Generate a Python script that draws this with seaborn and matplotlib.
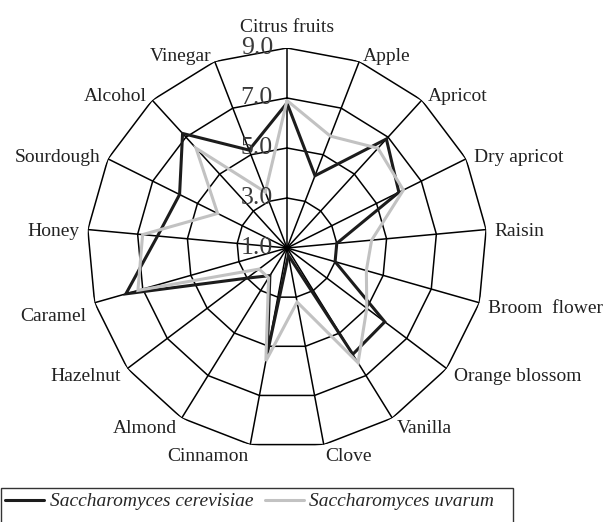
import numpy as np
import pandas as pd
import matplotlib
matplotlib.use("Agg")
import matplotlib.pyplot as plt
import matplotlib.transforms as mtransforms
from matplotlib.lines import Line2D
from matplotlib.patches import Rectangle
import seaborn as sns

categories = ["Citrus fruits", "Apple", "Apricot", "Dry apricot", "Raisin",
              "Broom  flower", "Orange blossom", "Vanilla", "Clove", "Cinnamon",
              "Almond", "Hazelnut", "Caramel", "Honey", "Sourdough", "Alcohol",
              "Vinegar"]
cerevisiae = [6.8, 4.1, 6.9, 6.0, 3.0, 3.0, 5.9, 6.0, 1.3, 5.3, 2.3, 3.0,
              7.7, 6.2, 5.8, 7.2, 5.2]
uvarum = [6.9, 5.8, 6.4, 6.2, 4.4, 4.3, 5.0, 6.4, 3.2, 5.6, 2.4, 2.4,
          7.2, 6.8, 4.1, 6.4, 3.4]
series_names = ["Saccharomyces cerevisiae", "Saccharomyces uvarum"]
ring_levels = [3, 5, 7, 9]
tick_levels = [1, 3, 5, 7, 9]
r_min, r_max = 1, 9

sns.set_theme(style="white")
plt.rcParams["font.family"] = ["Liberation Serif", "DejaVu Serif"]

W, H = 604, 522
fig = plt.figure(figsize=(W / 100, H / 100), dpi=100)
cx, cy, R = 287, 248, 200
ax = fig.add_axes([(cx - R) / W, (H - cy - R) / H, 2 * R / W, 2 * R / H],
                  projection="polar")
ax.set_theta_zero_location("N")
ax.set_theta_direction(-1)
ax.set_ylim(r_min, r_max)
ax.grid(False)
ax.spines["polar"].set_visible(False)
ax.set_xticks([])
ax.set_yticks([])
ax.set_facecolor("none")

n = len(categories)
theta = np.linspace(0, 2 * np.pi, n, endpoint=False)
theta_closed = np.append(theta, theta[0] + 2 * np.pi)

# polygon grid
for lv in ring_levels:
    ax.plot(theta_closed, [lv] * (n + 1), color="black", lw=1.1, zorder=1,
            solid_joinstyle="miter")
for th in theta:
    ax.plot([th, th], [r_min, r_max], color="black", lw=1.1, zorder=1)

# data
rows = []
for name, vals in zip(series_names, [cerevisiae, uvarum]):
    v = list(vals) + [vals[0]]
    for t, val in zip(theta_closed, v):
        rows.append({"theta": t, "value": val, "series": name})
df = pd.DataFrame(rows)
palette = {series_names[0]: "#1c1c1c", series_names[1]: "#c2c2c2"}
sns.lineplot(data=df, x="theta", y="value", hue="series", hue_order=series_names,
             palette=palette, sort=False, estimator=None, lw=2.2, ax=ax,
             legend=False, zorder=3)
for ln in ax.lines[-2:]:
    ln.set_solid_joinstyle("miter")
ax.set_xlabel("")
ax.set_ylabel("")
ax.set_ylim(r_min, r_max)

# radial tick labels
off = mtransforms.offset_copy(ax.transData, fig=fig, x=-14, y=0, units="dots")
for lv in tick_levels:
    ax.text(0, lv, f"{lv:.1f}", transform=off, ha="right", va="center",
            fontsize=18.5, color="#3a3a3a", zorder=4)

# category labels
lab_off = mtransforms.offset_copy(ax.transData, fig=fig, x=0, y=-3, units="dots")
car_off = mtransforms.offset_copy(ax.transData, fig=fig, x=0, y=-11, units="dots")
for th, lab in zip(theta, categories):
    s = np.sin(th)
    if abs(s) < 0.05:
        ax.text(th, 9.5, lab, ha="center", va="bottom", fontsize=14,
                color="#222222")
    else:
        ax.text(th, 9.35, lab, ha="left" if s > 0 else "right", va="center",
                fontsize=14, color="#222222",
                transform=car_off if lab == "Caramel" else lab_off)

handles = [Line2D([0], [0], color=palette[s], lw=2.2) for s in series_names]
leg = fig.legend(handles, series_names, loc="upper left",
                 bbox_to_anchor=(0.0, 1 - 488 / H), ncol=2, frameon=False,
                 prop={"style": "italic", "size": 14}, handlelength=2.0,
                 handletextpad=0.3, columnspacing=0.6, borderpad=0.25,
                 borderaxespad=0)
# legend frame, running past the bottom edge as in the original
fig.patches.append(Rectangle((0.5 / W, -0.05), 512.5 / W, 0.05 + 34 / H,
                             transform=fig.transFigure, fill=False,
                             edgecolor="#333333", lw=1.0))
fig.savefig("out.png", dpi=100)
